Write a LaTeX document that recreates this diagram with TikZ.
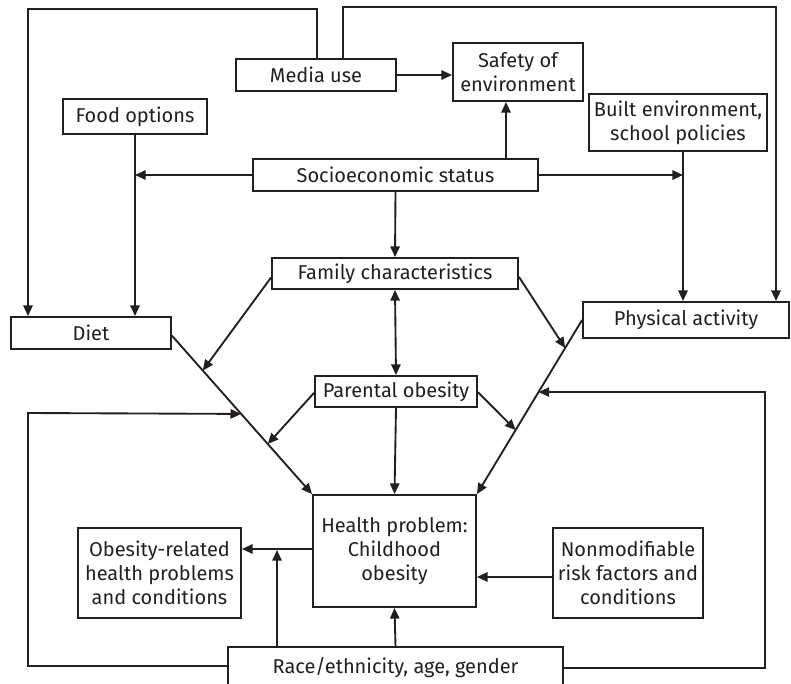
\documentclass[tikz,border=0pt]{standalone}
\usepackage{fontspec}
\setmainfont{Fira Sans}
\usetikzlibrary{arrows.meta}
\definecolor{ink}{RGB}{35,31,32}
\begin{document}
\begin{tikzpicture}[x=0.75pt,y=-0.75pt,
  box/.style={draw=ink, line width=1.4pt, align=center, inner sep=0pt,
    text=ink, font=\fontsize{15}{18}\selectfont},
  tip/.tip={Triangle[length=8pt,width=7pt]},
  arr/.style={draw=ink, line width=1.4pt, -tip},
  darr/.style={draw=ink, line width=1.4pt, tip-tip}]
\useasboundingbox (0,0) rectangle (791,684);

% boxes
\node[box, minimum width=120pt, minimum height=24pt]    (media)  at (316,75)    {Media use};
\node[box, minimum width=108pt, minimum height=26.25pt] (food)   at (135,116.5) {Food options};
\node[box, minimum width=213.75pt, minimum height=24pt] (soc)    at (395.5,175) {Socioeconomic status};
\node[box, minimum width=97.5pt, minimum height=43.5pt] (safety) at (518,72)    {Safety of\\environment};
\node[box, minimum width=133.5pt, minimum height=42.75pt] (built) at (678,122.5) {Built environment,\\school policies};
\node[box, minimum width=120pt, minimum height=24pt]    (diet)   at (91,333)    {Diet};
\node[box, minimum width=154.5pt, minimum height=27pt]  (phys)   at (686,320)   {Physical activity};
\node[box, minimum width=184.5pt, minimum height=23.25pt] (family) at (395,273.5) {Family characteristics};
\node[box, minimum width=121.5pt, minimum height=23.25pt] (parent) at (396,391.5) {Parental obesity};
\node[box, minimum width=122.25pt, minimum height=84pt] (health) at (394.5,551) {Health problem:\\Childhood\\obesity};
\node[box, minimum width=122.25pt, minimum height=67.5pt] (related) at (159.5,573) {Obesity-related\\health problems\\and conditions};
\node[box, minimum width=112.5pt, minimum height=67.5pt] (nonmod) at (628,573) {Nonmodifiable\\risk factors and\\conditions};
\node[box, minimum width=251.25pt, minimum height=30.75pt] (race) at (395.5,667.5) {Race/ethnicity, age, gender};

% upper connectors
\draw[arr] (media.east) -- (media.east -| safety.west);
\draw[arr] (soc.north -| 506,0) -- (safety.south -| 506,0);
\draw[arr] (soc.west) -- (soc.west -| food.south);
\draw[arr] (food.south) -- (food.south |- diet.north);
\draw[arr] (soc.east) -- (soc.east -| 683,0);
\draw[arr] (built.south -| 683,0) -- (phys.north -| 683,0);
\draw[arr] (media.north -| 317,0) -- (317,9) -- (28,9) -- (diet.north -| 28,0);
\draw[arr] (media.north -| 343,0) -- (343,7) -- (776,7) -- (phys.north -| 776,0);
\draw[arr] (soc.south) -- (family.north);
\draw[darr] (family.south) -- (parent.north);

% converging lines into the health problem
\draw[arr] ([yshift=-2pt]diet.east) --
  coordinate[pos=0.22] (dA) coordinate[pos=0.494] (dB) coordinate[pos=0.684] (dC)
  (health.north west);
\draw[arr] (phys.west) --
  coordinate[pos=0.161] (pA) coordinate[pos=0.414] (pB) coordinate[pos=0.632] (pC)
  (health.north east);
\draw[arr] ([yshift=-3pt]family.west) -- (dA);
\draw[arr] ([yshift=-2.5pt]family.east) -- (pA);
\draw[arr] ([yshift=-1pt]parent.west) -- (dC);
\draw[arr] ([yshift=-0.5pt]parent.east) -- (pC);
\draw[arr] (parent.south) -- (health.north);

% lower connectors
\draw[arr] ([yshift=1.5pt]health.west) -- ([yshift=1.5pt]health.west -| related.east);
\draw[arr] (race.north -| 277,0) -- (277,550);
\draw[arr] (race.north) -- (health.south);
\draw[arr] (nonmod.west |- 0,577) -- (health.east |- 0,577);
\draw[arr] (race.west |- 0,666) -- (28,666) -- (28,413) -- (dB);
\draw[arr] (race.east |- 0,668) -- (765,668) -- (765,392) -- (pB);
\end{tikzpicture}
\end{document}
